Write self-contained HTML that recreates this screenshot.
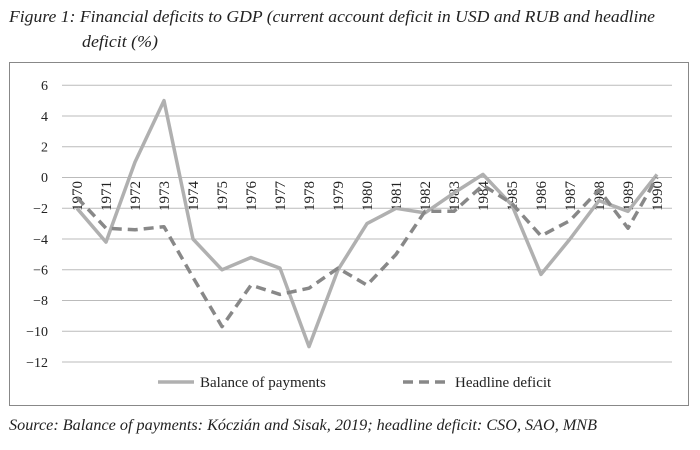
<!DOCTYPE html>
<html><head><meta charset="utf-8"><style>
html,body{margin:0;padding:0;background:#fff;}
svg{display:block;font-family:"Liberation Serif",serif;}
</style></head><body>
<svg width="700" height="450" xmlns="http://www.w3.org/2000/svg">
<text x="9" y="22" font-size="17" font-style="italic" fill="#222" textLength="646" lengthAdjust="spacingAndGlyphs">Figure 1: Financial deficits to GDP (current account deficit in USD and RUB and headline</text>
<text x="82" y="47" font-size="17" font-style="italic" fill="#222" textLength="76" lengthAdjust="spacingAndGlyphs">deficit (%)</text>
<rect x="9.5" y="62.5" width="679" height="343" fill="none" stroke="#888" stroke-width="1"/>
<g stroke="#bbb" stroke-width="1">
<line x1="62" x2="672" y1="85.3" y2="85.3"/>
<line x1="62" x2="672" y1="116" y2="116"/>
<line x1="62" x2="672" y1="146.8" y2="146.8"/>
<line x1="62" x2="672" y1="177.5" y2="177.5"/>
<line x1="62" x2="672" y1="208.3" y2="208.3"/>
<line x1="62" x2="672" y1="239" y2="239"/>
<line x1="62" x2="672" y1="269.8" y2="269.8"/>
<line x1="62" x2="672" y1="300.5" y2="300.5"/>
<line x1="62" x2="672" y1="331.3" y2="331.3"/>
<line x1="62" x2="672" y1="362" y2="362"/>
</g>
<g font-size="14" fill="#222" text-anchor="end">
<text x="48" y="90">6</text><text x="48" y="121">4</text><text x="48" y="151.5">2</text><text x="48" y="182">0</text>
<text x="48" y="213">−2</text><text x="48" y="244">−4</text><text x="48" y="274.5">−6</text><text x="48" y="305">−8</text>
<text x="48" y="336">−10</text><text x="48" y="367">−12</text>
</g>
<g font-size="15" fill="#222" text-anchor="end">
<text transform="translate(82,181) rotate(-90)">1970</text>
<text transform="translate(111,181) rotate(-90)">1971</text>
<text transform="translate(140,181) rotate(-90)">1972</text>
<text transform="translate(169,181) rotate(-90)">1973</text>
<text transform="translate(198,181) rotate(-90)">1974</text>
<text transform="translate(227,181) rotate(-90)">1975</text>
<text transform="translate(256,181) rotate(-90)">1976</text>
<text transform="translate(285,181) rotate(-90)">1977</text>
<text transform="translate(314,181) rotate(-90)">1978</text>
<text transform="translate(343,181) rotate(-90)">1979</text>
<text transform="translate(372,181) rotate(-90)">1980</text>
<text transform="translate(401,181) rotate(-90)">1981</text>
<text transform="translate(430,181) rotate(-90)">1982</text>
<text transform="translate(459,181) rotate(-90)">1983</text>
<text transform="translate(488,181) rotate(-90)">1984</text>
<text transform="translate(517,181) rotate(-90)">1985</text>
<text transform="translate(546,181) rotate(-90)">1986</text>
<text transform="translate(575,181) rotate(-90)">1987</text>
<text transform="translate(604,181) rotate(-90)">1988</text>
<text transform="translate(633,181) rotate(-90)">1989</text>
<text transform="translate(662,181) rotate(-90)">1990</text>
</g>
<polyline fill="none" stroke="#b0b0b0" stroke-width="3.5" stroke-linejoin="round" points="77,208.3 106,242.1 135,162.1 164,100.6 193,239 222,269.8 251,257.5 280,268.2 309,346.6 338,269.8 367,223.6 396,208.3 425,212.9 454,192.9 483,174.4 512,205.2 541,274.4 570,239 599,200.6 628,211.3 657,174.4"/>
<polyline fill="none" stroke="#888" stroke-width="3.5" stroke-dasharray="10,6" stroke-linejoin="round" points="77,197.5 106,228.2 135,229.8 164,226.7 193,277.4 222,326.6 251,285.1 280,294.4 309,288.2 338,268.2 367,285.1 396,254.4 425,211.3 454,211.3 483,185.2 512,203.6 541,235.9 570,220.6 599,189.8 628,228.2 657,177.5"/>
<line x1="158" x2="194" y1="382" y2="382" stroke="#b0b0b0" stroke-width="3.5"/>
<text x="200" y="387" font-size="15" fill="#222">Balance of payments</text>
<line x1="403" x2="449" y1="382" y2="382" stroke="#888" stroke-width="3.5" stroke-dasharray="10,6"/>
<text x="455" y="387" font-size="15" fill="#222">Headline deficit</text>
<text x="9" y="430" font-size="15.5" font-style="italic" fill="#222" textLength="588" lengthAdjust="spacingAndGlyphs">Source: Balance of payments: Kóczián and Sisak, 2019; headline deficit: CSO, SAO, MNB</text>
</svg>
</body></html>
